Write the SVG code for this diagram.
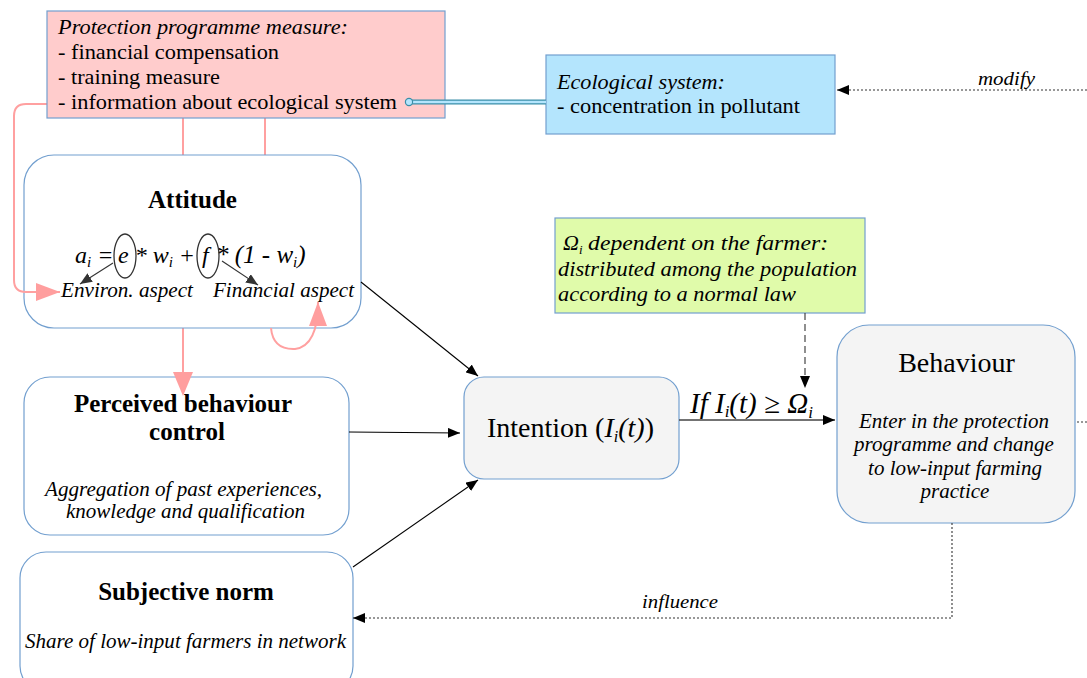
<svg xmlns="http://www.w3.org/2000/svg" width="1087" height="678" viewBox="0 0 1087 678">
<defs>
<marker id="ah" markerWidth="12" markerHeight="10" refX="12" refY="5" orient="auto" markerUnits="userSpaceOnUse"><path d="M0,0 L12,5 L0,10 z" fill="#000"/></marker>
<marker id="ahg" markerWidth="12" markerHeight="10" refX="12" refY="5" orient="auto" markerUnits="userSpaceOnUse"><path d="M0,0 L12,5 L0,10 z" fill="#333"/></marker>
<marker id="ahp" markerWidth="24" markerHeight="18" refX="24" refY="9" orient="auto" markerUnits="userSpaceOnUse"><path d="M0,0 L24,9 L0,18 z" fill="#ff9e9e"/></marker>
</defs>
<style>
text{font-family:"Liberation Serif","Times New Roman",serif;fill:#000}
.it{font-style:italic}
.b{font-weight:bold}
.box{stroke:#729fcf;stroke-width:1.2}
.pink{stroke:#ffa0a0;stroke-width:2;fill:none}
.blk{stroke:#000;stroke-width:1.1;fill:none}
.dot{stroke:#333;stroke-width:1.1;stroke-dasharray:2 2;fill:none}
</style>
<rect width="1087" height="678" fill="#fff"/>

<g id="pinkconnectors">
<path class="pink" d="M183,118 L183,396"/>
<path class="pink" d="M265,118 L265,155"/>
</g>

<g id="n-attitude">
<rect class="box" x="24" y="155" width="337" height="173" rx="30" fill="#fff"/>
<text class="b" x="192.5" y="208" font-size="25" text-anchor="middle">Attitude</text>
<text class="it" x="75" y="263" font-size="24">a<tspan font-size="15" dy="4">i</tspan><tspan dy="-4"> = </tspan><tspan x="118">e</tspan><tspan> * w</tspan><tspan font-size="15" dy="4">i</tspan><tspan dy="-4"> + </tspan><tspan x="202">f</tspan></text>
<text class="it" x="216" y="263" font-size="25">* (1 - w<tspan font-size="15" dy="4">i</tspan><tspan dy="-4">)</tspan></text>
<ellipse cx="125" cy="256" rx="11" ry="22" fill="none" stroke="#333" stroke-width="1.3"/>
<ellipse cx="208" cy="256" rx="11" ry="22" fill="none" stroke="#333" stroke-width="1.3"/>
<line x1="113" y1="263" x2="80" y2="284" stroke="#333" stroke-width="1.1" marker-end="url(#ahg)"/>
<line x1="222" y1="261" x2="258" y2="285" stroke="#333" stroke-width="1.1" marker-end="url(#ahg)"/>
<text class="it" x="61" y="297" font-size="21" textLength="132" lengthAdjust="spacingAndGlyphs">Environ. aspect</text>
<text class="it" x="213" y="297" font-size="21" textLength="141" lengthAdjust="spacingAndGlyphs">Financial aspect</text>
</g>

<g id="pinkoverlay">
<path class="pink" d="M47,104 L26,104 Q14,104 14,116 L14,280 Q14,292 26,292 L60,292" marker-end="url(#ahp)"/>
<path class="pink" d="M271,328 Q273,350 295,349 Q318,346 318,302" marker-end="url(#ahp)"/>
</g>

<g id="n-programme">
<rect class="box" x="47" y="11" width="398" height="107" fill="#ffcccc"/>
<text class="it" x="58" y="34" font-size="22" textLength="290" lengthAdjust="spacingAndGlyphs">Protection programme measure:</text>
<text x="58" y="59" font-size="22" textLength="221" lengthAdjust="spacingAndGlyphs">- financial compensation</text>
<text x="58" y="84" font-size="22" textLength="162" lengthAdjust="spacingAndGlyphs">- training measure</text>
<text x="58" y="109" font-size="22" textLength="339" lengthAdjust="spacingAndGlyphs">- information about ecological system</text>
</g>

<g id="n-ecological">
<rect class="box" x="546" y="55" width="289" height="79" fill="#b4e5fd"/>
<text class="it" x="557" y="89" font-size="22" textLength="168" lengthAdjust="spacingAndGlyphs">Ecological system:</text>
<text x="557" y="113" font-size="22" textLength="243" lengthAdjust="spacingAndGlyphs">- concentration in pollutant</text>
</g>

<g id="n-omega">
<rect class="box" x="555" y="218" width="310" height="95" fill="#e0fbaa"/>
<text class="it" x="563" y="250" font-size="22">Ω<tspan font-size="13" dy="4">i</tspan><tspan dy="-4"> </tspan><tspan textLength="240" lengthAdjust="spacingAndGlyphs">dependent on the farmer:</tspan></text>
<text class="it" x="558" y="276" font-size="22" textLength="299" lengthAdjust="spacingAndGlyphs">distributed among the population</text>
<text class="it" x="558" y="301" font-size="22" textLength="238" lengthAdjust="spacingAndGlyphs">according to a normal law</text>
</g>

<g id="n-intention">
<rect class="box" x="464" y="377" width="215" height="102" rx="20" fill="#f4f4f4"/>
<text x="570.5" y="437" font-size="28" text-anchor="middle">Intention (<tspan class="it">I</tspan><tspan class="it" font-size="16" dy="5">i</tspan><tspan class="it" dy="-5">(t)</tspan>)</text>
</g>

<g id="n-behaviour">
<rect class="box" x="837" y="325" width="238" height="198" rx="32" fill="#f4f4f4"/>
<text x="956.5" y="372" font-size="28" text-anchor="middle">Behaviour</text>
<text class="it" x="954" y="428" font-size="21" text-anchor="middle">Enter in the protection</text>
<text class="it" x="954" y="451" font-size="21" text-anchor="middle">programme and change</text>
<text class="it" x="955" y="475" font-size="21" text-anchor="middle">to low-input farming</text>
<text class="it" x="955" y="498" font-size="21" text-anchor="middle">practice</text>
</g>

<g id="n-perceived">
<rect class="box" x="24" y="377" width="325" height="158" rx="26" fill="#fff"/>
<text class="b" x="183" y="412" font-size="25" text-anchor="middle">Perceived behaviour</text>
<text class="b" x="187" y="440" font-size="25" text-anchor="middle">control</text>
<text class="it" x="183.5" y="496" font-size="20" text-anchor="middle" textLength="277" lengthAdjust="spacingAndGlyphs">Aggregation of past experiences,</text>
<text class="it" x="185.5" y="518" font-size="20" text-anchor="middle" textLength="239" lengthAdjust="spacingAndGlyphs">knowledge and qualification</text>
</g>

<g id="n-subjective">
<rect class="box" x="20" y="552" width="333" height="140" rx="26" fill="#fff"/>
<text class="b" x="186" y="600" font-size="25" text-anchor="middle">Subjective norm</text>
<text class="it" x="185.5" y="648" font-size="20" text-anchor="middle" textLength="321" lengthAdjust="spacingAndGlyphs">Share of low-input farmers in network</text>
</g>

<g id="pinkarrowtop">
<path d="M173,372 L193,372 L183,396 z" fill="#ff9e9e"/>
</g>

<g id="connectors">
<line x1="409" y1="102" x2="546" y2="102" stroke="#3a8ea8" stroke-width="5"/>
<line x1="409" y1="102" x2="546" y2="102" stroke="#b4e5fd" stroke-width="2.6"/>
<circle cx="409" cy="102" r="3.6" fill="#b4e5fd" stroke="#3a8ea8" stroke-width="1.2"/>
<line class="dot" x1="1087" y1="90" x2="837" y2="90" marker-end="url(#ah)"/>
<text class="it" x="978" y="85" font-size="18" textLength="57" lengthAdjust="spacingAndGlyphs">modify</text>
<line class="blk" x1="361" y1="282" x2="478" y2="376" marker-end="url(#ah)"/>
<line class="blk" x1="349" y1="432" x2="460" y2="433" marker-end="url(#ah)"/>
<line class="blk" x1="353" y1="567" x2="478" y2="480" marker-end="url(#ah)"/>
<line x1="805" y1="313" x2="805" y2="388" stroke="#333" stroke-width="1.1" stroke-dasharray="7 4" marker-end="url(#ah)"/>
<line x1="679" y1="420" x2="835" y2="420" stroke="#444" stroke-width="1.4" marker-end="url(#ah)"/>
<text class="it" x="690" y="413" font-size="29">If I<tspan font-size="17" dy="4">i</tspan><tspan dy="-4">(t) ≥ Ω</tspan><tspan font-size="17" dy="5">i</tspan></text>
<line class="dot" x1="1077" y1="422" x2="1087" y2="422"/>
<path class="dot" d="M952,523 L952,618 L353,618" marker-end="url(#ah)"/>
<text class="it" x="642" y="608" font-size="19" textLength="76" lengthAdjust="spacingAndGlyphs">influence</text>
</g>
</svg>
